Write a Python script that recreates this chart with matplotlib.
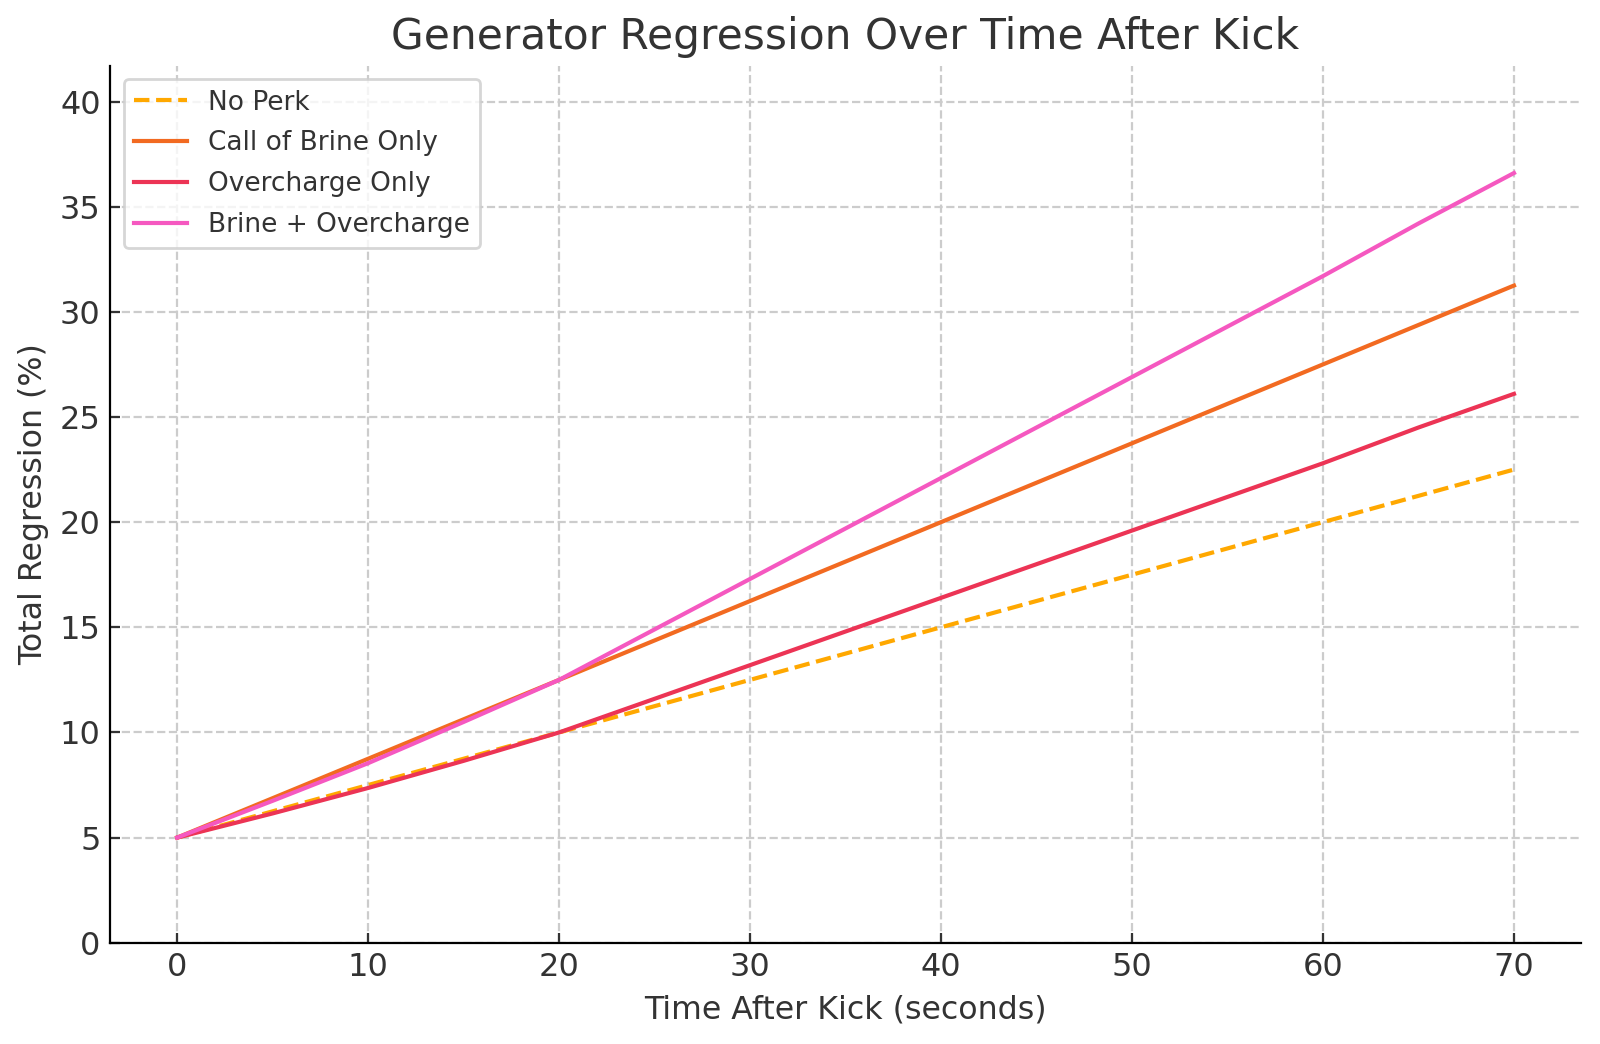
import matplotlib
matplotlib.use("Agg")
import matplotlib.pyplot as plt

# time after kick (s) and total regression (%) per perk setup
t = [0, 5, 10, 15, 20, 25, 30, 35, 40, 45, 50, 55, 60, 65, 70]
no_perk = [5, 6.25, 7.5, 8.75, 10, 11.25, 12.5, 13.75, 15, 16.25, 17.5, 18.75, 20, 21.25, 22.5]
brine_only = [5, 6.875, 8.75, 10.625, 12.5, 14.375, 16.25, 18.125, 20, 21.875, 23.75, 25.625, 27.5, 29.375, 31.25]
overcharge_only = [5, 6.15, 7.36, 8.65, 10, 11.6, 13.2, 14.8, 16.4, 18.0, 19.6, 21.2, 22.8, 24.5, 26.1]
brine_overcharge = [5, 6.75, 8.54, 10.5, 12.5, 14.9, 17.3, 19.7, 22.1, 24.5, 26.9, 29.3, 31.7, 34.2, 36.6]

txt = "#333333"
plt.rcParams["font.family"] = ["DejaVu Sans"]
plt.rcParams["text.color"] = txt
plt.rcParams["axes.labelcolor"] = txt
plt.rcParams["xtick.color"] = txt
plt.rcParams["ytick.color"] = txt

fig, ax = plt.subplots(figsize=(8, 5.22), dpi=200)

ax.plot(t, no_perk, "--", color="#FFA800", lw=1.5, label="No Perk")
ax.plot(t, brine_only, color="#F26A21", lw=1.5, label="Call of Brine Only")
ax.plot(t, overcharge_only, color="#EC3455", lw=1.5, label="Overcharge Only")
ax.plot(t, brine_overcharge, color="#F558C0", lw=1.5, label="Brine + Overcharge")

ax.set_title("Generator Regression Over Time After Kick", fontsize=15.2)
ax.set_xlabel("Time After Kick (seconds)", fontsize=11.4)
ax.set_ylabel("Total Regression (%)", fontsize=11.4)
ax.set_xlim(-3.5, 73.5)
ax.set_ylim(0, 41.7)
ax.set_xticks(range(0, 71, 10))
ax.set_yticks(range(0, 41, 5))
ax.tick_params(labelsize=11.5, direction="in")
ax.grid(True, linestyle="--", color="#cccccc", linewidth=0.8)
ax.spines["top"].set_visible(False)
ax.spines["right"].set_visible(False)
ax.legend(loc="upper left", fontsize=9.5, labelcolor=txt, labelspacing=0.56)

plt.subplots_adjust(left=0.069, right=0.988, top=0.937, bottom=0.097)
plt.savefig("out.png", dpi=200)
